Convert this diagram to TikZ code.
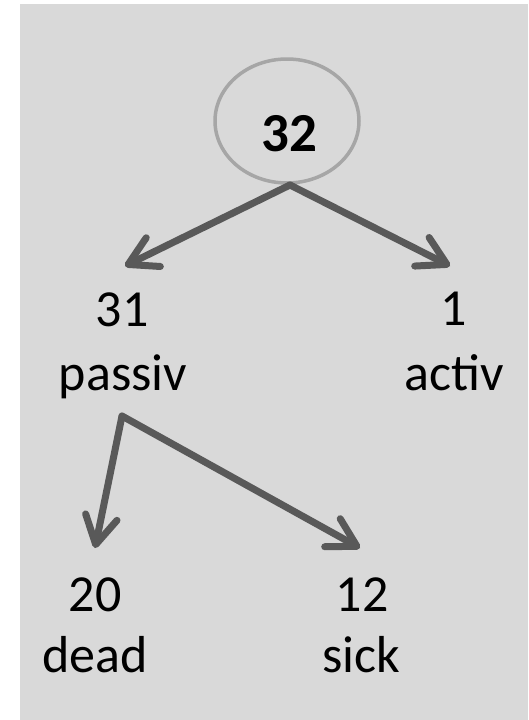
\documentclass[tikz,border=0pt]{standalone}
\usepackage{fontspec}
\setmainfont{Carlito}
\usetikzlibrary{arrows.meta}
\definecolor{bggray}{HTML}{D9D9D9}
\definecolor{ringgray}{HTML}{A6A6A6}
\definecolor{arrowgray}{HTML}{595959}
\tikzset{
  lbl/.style={anchor=base, inner sep=0pt, font=\fontsize{52}{62}\selectfont, text=black},
  rootnode/.style={ellipse, draw=ringgray, line width=3.5pt, minimum width=144pt, minimum height=124pt, inner sep=0pt},
  conn/.style={draw=arrowgray, line width=7pt, line cap=round, line join=round,
    -{Straight Barb[length=28pt, width=32pt, round]}}
}
\usetikzlibrary{shapes.geometric}
\begin{document}
\begin{tikzpicture}[x=1pt, y=-1pt]
\useasboundingbox (0,0) rectangle (528,720);
\fill[bggray] (20,4) rectangle (528,720);
\node[rootnode] (root) at (287,121) {};
\node[anchor=base, inner sep=0pt, font=\fontsize{55}{62}\selectfont\bfseries] (n32) at (289.5,151) {32};
\coordinate (top) at (290,185);
\coordinate (split) at (122,416);
\node[lbl] (n31) at (122,326) {31};
\node[lbl] (passiv) at (123,390) {passiv};
\node[lbl] (n1) at (454,325) {1};
\node[lbl] (activ) at (454,390) {activ};
\node[lbl] (n20) at (95,611) {20};
\node[lbl] (dead) at (95,672) {dead};
\node[lbl] (n12) at (362,611) {12};
\node[lbl] (sick) at (361,672) {sick};
\coordinate (tipA) at (125,266);
\coordinate (tipB) at (450,266);
\coordinate (tipC) at (95,548);
\coordinate (tipD) at (360,548);
\draw[conn] (top) -- (tipA);
\draw[conn] (top) -- (tipB);
\draw[conn] (split) -- (tipC);
\draw[conn] (split) -- (tipD);
\end{tikzpicture}
\end{document}
